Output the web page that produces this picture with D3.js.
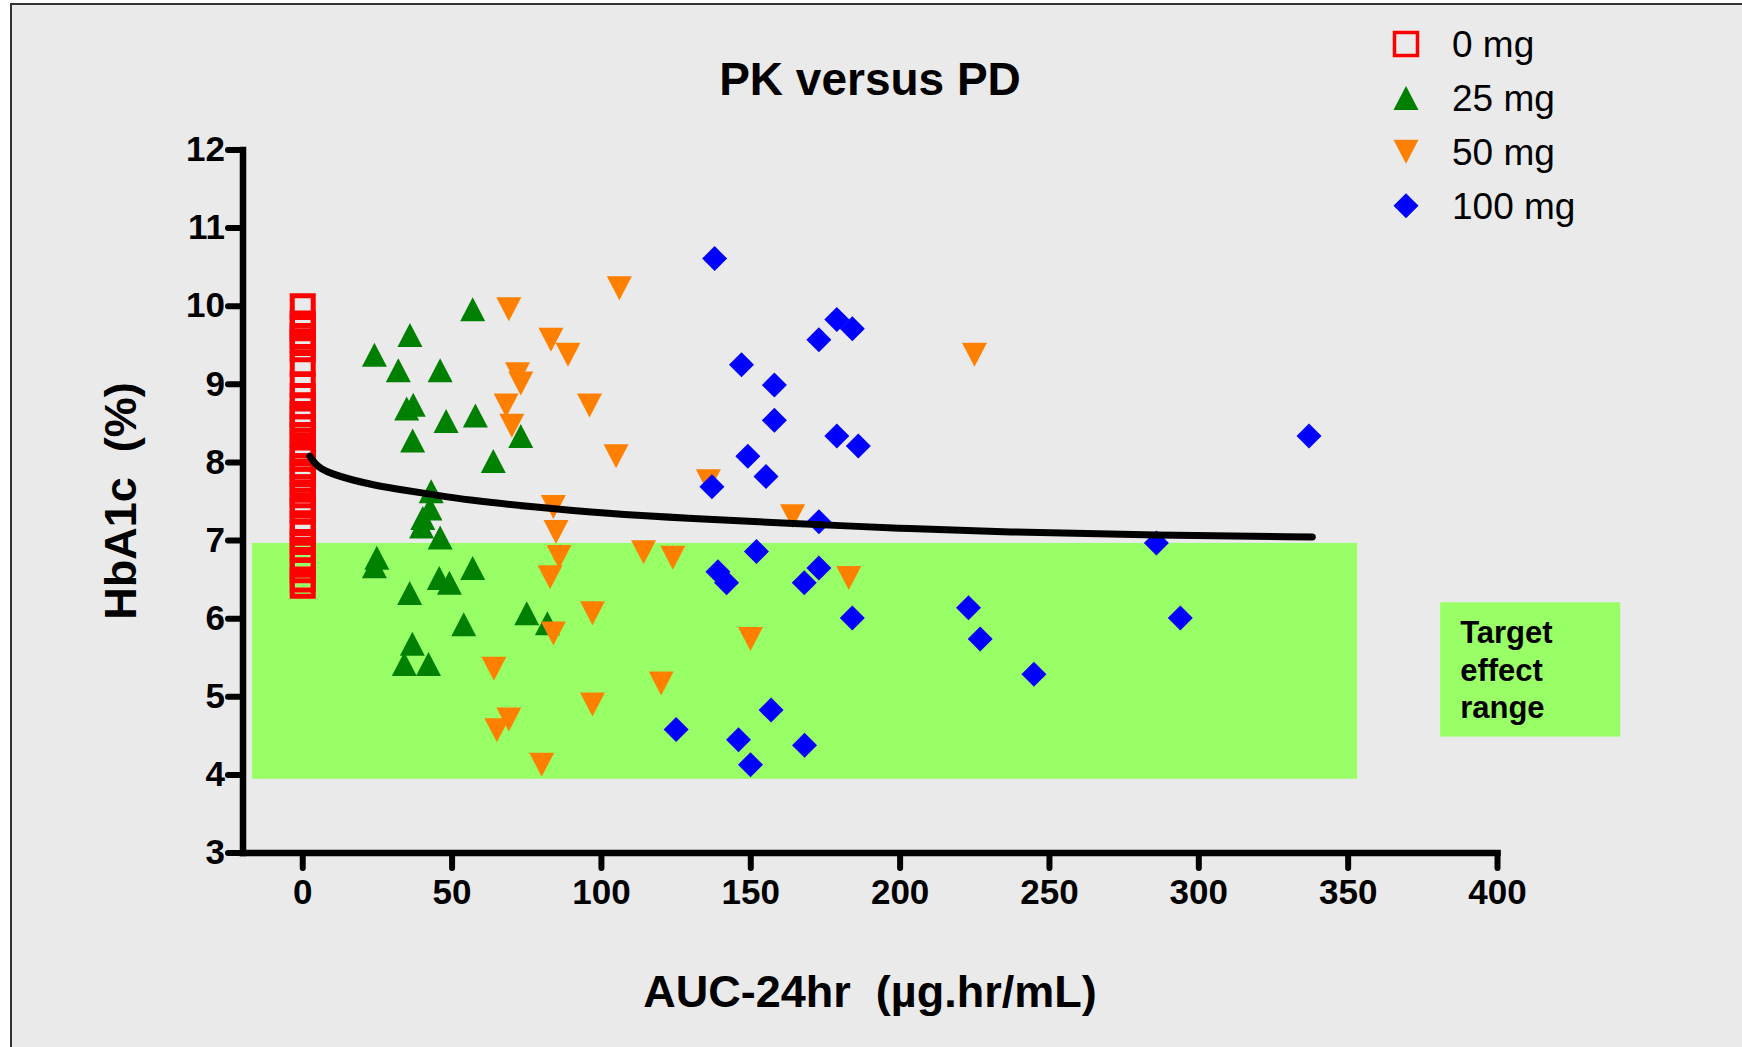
<!DOCTYPE html>
<html>
<head>
<meta charset="utf-8">
<script src="https://cdn.jsdelivr.net/npm/d3@7"></script>
<style>
  html, body { margin: 0; padding: 0; background: #fff; }
  svg { display: block; font-family: "Liberation Sans", Arial, sans-serif; }
  text { white-space: pre; }
</style>
</head>
<body>
<svg id="chart" width="1742" height="1047"></svg>
<script>
// HbA1c (%) at AUC 0 for placebo
const dose0Y = [10.0, 9.78, 9.72, 9.62, 9.55, 9.45, 9.26, 9.0, 8.85, 8.72, 8.62, 8.55,
  8.45, 8.35, 8.22, 8.12, 8.05, 7.95, 7.88, 7.78, 7.68, 7.58, 7.45, 7.38, 7.22,
  7.1, 6.98, 6.88, 6.75, 6.62, 6.5, 6.42];

const dose25X = [56.9, 35.9, 24.0, 32.0, 46.0, 34.8, 37.0, 48.0, 57.8, 36.8, 73.0, 63.8,
  43.0, 42.6, 40.2, 39.8, 46.0, 24.8, 24.0, 56.9, 45.7, 49.1, 35.8, 75.0, 81.9,
  53.9, 36.7, 34.0, 42.1];
const dose25Y = [9.96, 9.63, 9.38, 9.18, 9.18, 8.69, 8.74, 8.53, 8.60, 8.28, 8.34, 8.02,
  7.63, 7.41, 7.29, 7.18, 7.04, 6.78, 6.67, 6.65, 6.52, 6.46, 6.33, 6.07, 5.94,
  5.93, 5.68, 5.42, 5.42];

const dose50X = [69.0, 83.1, 88.8, 71.9, 73.0, 68.1, 70.0, 96.0, 104.9, 106.0, 224.9, 135.8,
  164.0, 83.9, 84.8, 85.8, 82.8, 114.1, 123.9, 182.8, 97.0, 83.9, 149.9, 64.0,
  120.0, 97.0, 69.0, 65.0, 80.0];
const dose50Y = [9.96, 9.57, 9.38, 9.13, 9.01, 8.73, 8.47, 8.73, 8.08, 10.23, 9.38, 7.76,
  7.31, 7.43, 7.11, 6.79, 6.53, 6.85, 6.78, 6.52, 6.07, 5.81, 5.74, 5.36,
  5.17, 4.90, 4.71, 4.57, 4.13];

const dose100X = [137.9, 178.8, 184.0, 172.8, 146.9, 157.9, 157.9, 178.8, 186.0, 149.0, 155.1,
  137.0, 172.8, 151.9, 139.0, 141.9, 172.8, 167.9, 184.0, 222.9, 226.8, 156.8,
  125.0, 145.9, 168.0, 149.9, 244.8, 285.8, 293.8, 336.9];
const dose100Y = [10.61, 9.83, 9.71, 9.57, 9.25, 8.99, 8.54, 8.34, 8.21, 8.08, 7.82,
  7.69, 7.24, 6.86, 6.60, 6.46, 6.65, 6.46, 6.01, 6.14, 5.74, 4.83,
  4.58, 4.45, 4.38, 4.13, 5.29, 6.97, 6.01, 8.34];

// fitted PK/PD curve
const fitX = [2.4, 4, 6, 10, 16, 25, 33, 45, 55, 77, 100, 130, 164, 200, 234, 286, 338];
const fitY = [8.08, 7.99, 7.92, 7.85, 7.78, 7.70, 7.65, 7.58, 7.52, 7.43, 7.35, 7.28,
  7.22, 7.155, 7.11, 7.07, 7.045];

const xTicks = [0, 50, 100, 150, 200, 250, 300, 350, 400];
const yTicks = [3, 4, 5, 6, 7, 8, 9, 10, 11, 12];
const legendLabels = ["0 mg", "25 mg", "50 mg", "100 mg"];
const targetBand = { x0: -17, x1: 353, y0: 3.95, y1: 6.97 };
const targetBox = { x0: 380.8, x1: 441.1, y0: 4.49, y1: 6.21 };
const targetLines = ["Target", "effect", "range"];

const svg = d3.select("#chart");
const bg = "#eaeaea";
const bandColor = "#99ff66";

svg.append("rect").attr("x", 11).attr("y", 4).attr("width", 1800).attr("height", 1100)
  .attr("fill", bg).attr("stroke", "#333").attr("stroke-width", 2);

const x = d3.scaleLinear().domain([-20, 400]).range([243, 1497.5]);
const y = d3.scaleLinear().domain([3, 12]).range([853, 150]);

// target effect band
svg.append("rect")
  .attr("x", x(targetBand.x0)).attr("y", y(targetBand.y1))
  .attr("width", x(targetBand.x1) - x(targetBand.x0))
  .attr("height", y(targetBand.y0) - y(targetBand.y1))
  .attr("fill", bandColor);

svg.append("rect")
  .attr("x", x(targetBox.x0)).attr("y", y(targetBox.y1))
  .attr("width", x(targetBox.x1) - x(targetBox.x0))
  .attr("height", y(targetBox.y0) - y(targetBox.y1))
  .attr("fill", bandColor);

svg.append("g").selectAll("text").data(targetLines).enter().append("text")
  .attr("x", x(targetBox.x0) + 20)
  .attr("y", (d, i) => y(targetBox.y1) + 41 + i * 37.5)
  .attr("font-size", 31).attr("font-weight", "bold").attr("fill", "#000")
  .text(d => d);

// marker shapes
const shapes = {
  square: "M-10.5,-10.5H10.5V10.5H-10.5Z",
  up: "M0,-12L12.5,12L-12.5,12Z",
  down: "M0,12L12.5,-12L-12.5,-12Z",
  diamond: "M0,-12.5L12.5,0L0,12.5L-12.5,0Z"
};

const series = [
  { name: legendLabels[0], shape: "square", color: "#ff0000", pts: dose0Y.map(v => [0, v]) },
  { name: legendLabels[1], shape: "up", color: "#008000", pts: dose25X.map((v, i) => [v, dose25Y[i]]) },
  { name: legendLabels[2], shape: "down", color: "#ff8000", pts: dose50X.map((v, i) => [v, dose50Y[i]]) },
  { name: legendLabels[3], shape: "diamond", color: "#0000ff", pts: dose100X.map((v, i) => [v, dose100Y[i]]) }
];

function styleMarker(sel, s) {
  if (s.shape === "square") {
    sel.attr("fill", "none").attr("stroke", s.color).attr("stroke-width", 5);
  } else {
    sel.attr("fill", s.color);
  }
}

series.forEach(s => {
  const g = svg.append("g");
  g.selectAll("path").data(s.pts).enter().append("path")
    .attr("d", shapes[s.shape])
    .attr("transform", d => `translate(${x(d[0])},${y(d[1])})`)
    .call(styleMarker, s);
});

// fitted curve
const line = d3.line().x(d => x(d[0])).y(d => y(d[1])).curve(d3.curveBasis);
svg.append("path")
  .datum(fitX.map((v, i) => [v, fitY[i]]))
  .attr("d", line)
  .attr("fill", "none").attr("stroke", "#000").attr("stroke-width", 7)
  .attr("stroke-linecap", "round");

// axes
const xAxis = svg.append("g")
  .attr("transform", "translate(0,853)")
  .call(d3.axisBottom(x).tickValues(xTicks).tickSize(15).tickSizeOuter(0).tickPadding(11).offset(0));
const yAxis = svg.append("g")
  .attr("transform", "translate(243,0)")
  .call(d3.axisLeft(y).tickValues(yTicks).tickSize(15).tickSizeOuter(0).tickPadding(3).offset(0));

[xAxis, yAxis].forEach(a => {
  a.select(".domain").attr("stroke", "#000").attr("stroke-width", 6.5).attr("stroke-linecap", "square");
  a.selectAll(".tick line").attr("stroke", "#000").attr("stroke-width", 6).attr("stroke-linecap", "round");
  a.selectAll(".tick text").attr("font-size", 35).attr("font-weight", "bold").attr("fill", "#000")
    .attr("font-family", "Liberation Sans, Arial, sans-serif");
});

// titles
svg.append("text").attr("x", 870).attr("y", 95).attr("text-anchor", "middle")
  .attr("font-size", 46).attr("font-weight", "bold").text("PK versus PD");

svg.append("text").attr("x", 870).attr("y", 1007).attr("text-anchor", "middle")
  .attr("font-size", 45).attr("font-weight", "bold").text("AUC-24hr  (µg.hr/mL)");

svg.append("text").attr("transform", "translate(136,501) rotate(-90)")
  .attr("text-anchor", "middle").attr("font-size", 45).attr("font-weight", "bold")
  .text("HbA1c  (%)");

// legend
const legend = svg.append("g").attr("transform", "translate(1406,44)");
const rows = legend.selectAll("g").data(series).enter().append("g")
  .attr("transform", (d, i) => `translate(0,${i * 53.9})`);
rows.append("path").attr("d", d => d.shape === "square" ? "M-11.5,-11.5H11.5V11.5H-11.5Z" : shapes[d.shape])
  .each(function (d) {
    const p = d3.select(this);
    if (d.shape === "square") p.attr("fill", "none").attr("stroke", d.color).attr("stroke-width", 3.5);
    else p.attr("fill", d.color);
  });
rows.append("text").attr("x", 46).attr("y", 13).attr("font-size", 37).text(d => d.name);
</script>
</body>
</html>
